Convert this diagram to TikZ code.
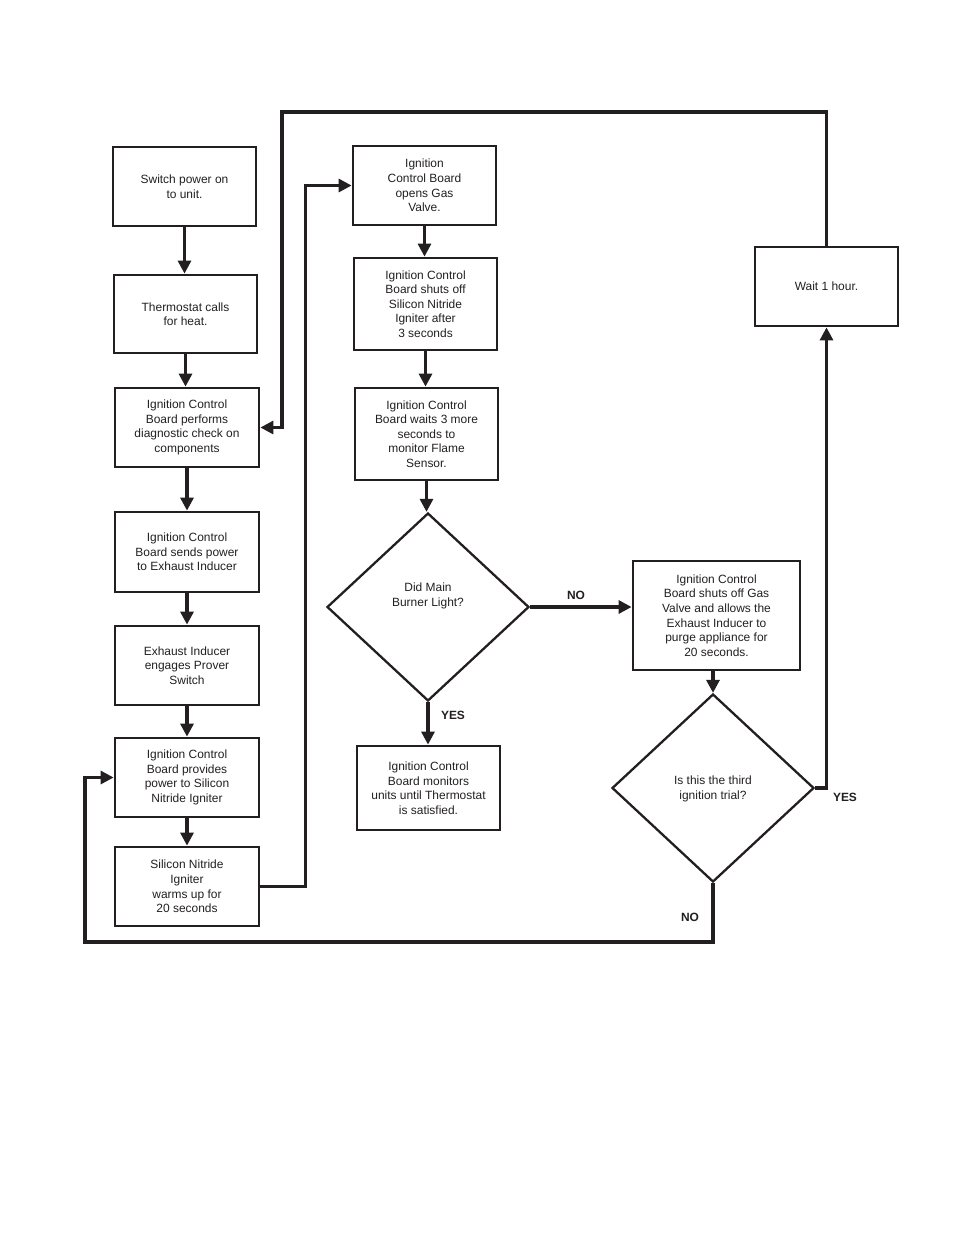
\documentclass[tikz,border=0pt]{standalone}
\usepackage{fontspec}
\setmainfont{Liberation Sans}
\usetikzlibrary{shapes.geometric,arrows.meta}
\definecolor{ink}{RGB}{35,31,32}
\begin{document}
\begin{tikzpicture}[x=1bp,y=-1bp, color=ink,
  box/.style={draw, line width=2.8bp, align=center, inner sep=0pt, font=\fontsize{12}{14.6}\selectfont},
  dia/.style={draw, diamond, line width=2.3bp, inner sep=0pt, minimum width=202bp, minimum height=188bp},
  txt/.style={align=center, inner sep=0pt, font=\fontsize{12}{14.6}\selectfont},
  lbl/.style={inner sep=0pt, font=\fontsize{12}{14}\selectfont\bfseries},
  conn/.style={line width=3.1bp, -{Triangle[length=13bp,width=13bp]}}]
\useasboundingbox (0,0) rectangle (954,1235);
% left column
\node[box, minimum width=143bp, minimum height=79bp] (n1) at (184.5,186.5) {Switch power on\\to unit.};
\node[box, minimum width=143bp, minimum height=78bp] (n2) at (185.5,314) {Thermostat calls\\for heat.};
\node[box, minimum width=144bp, minimum height=79bp] (n3) at (187,427.5) {Ignition Control\\Board performs\\diagnostic check on\\components};
\node[box, minimum width=144bp, minimum height=80bp] (n4) at (187,552) {Ignition Control\\Board sends power\\to Exhaust Inducer};
\node[box, minimum width=144bp, minimum height=79bp] (n5) at (187,665.5) {Exhaust Inducer\\engages Prover\\Switch};
\node[box, minimum width=144bp, minimum height=79bp] (n6) at (187,777.5) {Ignition Control\\Board provides\\power to Silicon\\Nitride Igniter};
\node[box, minimum width=144bp, minimum height=79bp] (n7) at (187,886.5) {Silicon Nitride\\Igniter\\warms up for\\20 seconds};
% middle column
\node[box, minimum width=143bp, minimum height=79bp] (n8) at (424.5,185.5) {Ignition\\Control Board\\opens Gas\\Valve.};
\node[box, minimum width=143bp, minimum height=92bp] (n9) at (425.5,304) {Ignition Control\\Board shuts off\\Silicon Nitride\\Igniter after\\3 seconds};
\node[box, minimum width=143bp, minimum height=92bp] (n10) at (426.5,434) {Ignition Control\\Board waits 3 more\\seconds to\\monitor Flame\\Sensor.};
\node[dia] (d1) at (428,607) {};
\node[txt] (d1t) at (428,596) {Did Main\\Burner Light?};
\node[box, minimum width=143bp, minimum height=84bp] (n12) at (428.5,788) {Ignition Control\\Board monitors\\units until Thermostat\\is satisfied.};
% right column
\node[box, minimum width=167bp, minimum height=109bp] (n13) at (716.5,615.5) {Ignition Control\\Board shuts off Gas\\Valve and allows the\\Exhaust Inducer to\\purge appliance for\\20 seconds.};
\node[dia] (d2) at (713,788) {};
\node[txt] (d2t) at (713,789) {Is this the third\\ignition trial?};
\node[box, minimum width=143bp, minimum height=79bp] (w) at (826.5,286.5) {Wait 1 hour.};
% connectors
\draw[conn] (n1.south) -- (n1.south |- n2.north);
\draw[conn] (n2.south) -- (n2.south |- n3.north);
\draw[conn] (n3.south) -- (n3.south |- n4.north);
\draw[conn] (n4.south) -- (n4.south |- n5.north);
\draw[conn] (n5.south) -- (n5.south |- n6.north);
\draw[conn] (n6.south) -- (n6.south |- n7.north);
\draw[conn] (n7.east) -- ++(45,0) |- (n8.west);
\draw[conn] (n8.south) -- (n8.south |- n9.north);
\draw[conn] (n9.south) -- (n9.south |- n10.north);
\draw[conn] (n10.south) -- (n10.south |- d1.north);
\draw[conn] (d1.east) -- (d1.east -| n13.west);
\draw[conn] (d1.south) -- (d1.south |- n12.north);
\draw[conn] (d2.north |- n13.south) -- (d2.north);
\draw[conn] (d2.east) -| (w.south);
\coordinate (c1) at (282,112);
\draw[conn] (w.north) |- (c1) |- (n3.east);
\coordinate (c3) at (85,942);
\draw[conn] (d2.south) |- (c3) |- (n6.west);
% labels
\node[lbl] (lno1) at (576,595) {NO};
\node[lbl] (lyes1) at (453,715) {YES};
\node[lbl] (lyes2) at (845,797) {YES};
\node[lbl] (lno2) at (690,917) {NO};
\end{tikzpicture}
\end{document}
